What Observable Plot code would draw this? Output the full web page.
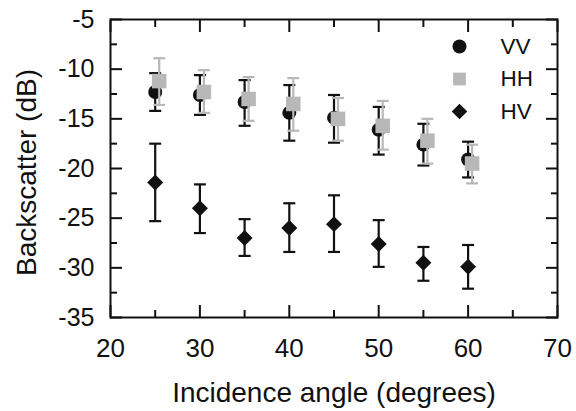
<!DOCTYPE html>
<html>
<head>
<meta charset="utf-8">
<script src="https://cdn.jsdelivr.net/npm/d3@7"></script>
<script src="https://cdn.jsdelivr.net/npm/@observablehq/plot@0.6"></script>
<style>
  html, body { margin: 0; padding: 0; background: #fff; }
  svg { display: block; }
</style>
</head>
<body>
<div id="chart"></div>
<script>
// ---- data ----
const angles = [25, 30, 35, 40, 45, 50, 55, 60];
const vv   = [-12.3, -12.6, -13.3, -14.4, -14.9, -16.1, -17.6, -19.1];
const vvHi = [-10.4, -10.6, -11.1, -11.6, -12.6, -13.8, -15.5, -17.3];
const vvLo = [-14.2, -14.6, -15.7, -17.2, -17.4, -18.6, -19.7, -20.9];
const hh   = [-11.2, -12.3, -13.0, -13.5, -15.0, -15.7, -17.2, -19.5];
const hhHi = [-8.9, -10.1, -10.8, -10.9, -12.9, -13.2, -15.0, -17.6];
const hhLo = [-13.6, -14.4, -15.2, -16.2, -17.2, -18.1, -19.5, -21.5];
const hv   = [-21.4, -24.0, -27.0, -26.0, -25.6, -27.6, -29.5, -29.9];
const hvHi = [-17.5, -21.6, -25.1, -23.5, -22.7, -25.2, -27.9, -27.7];
const hvLo = [-25.3, -26.5, -28.8, -28.4, -28.4, -29.9, -31.3, -32.1];

const xMajor = [20, 30, 40, 50, 60, 70];
const xMinor = [25, 35, 45, 55, 65];
const yMajor = [-35, -30, -25, -20, -15, -10, -5];
const yMinor = [-32.5, -27.5, -22.5, -17.5, -12.5, -7.5];
const xTitle = "Incidence angle (degrees)";
const yTitle = "Backscatter (dB)";
const legendLabels = ["VV", "HH", "HV"];

// ---- build tables ----
const mk = (v, hi, lo) => angles.map((a, i) => ({a, v: v[i], hi: hi[i], lo: lo[i]}));
const dVV = mk(vv, vvHi, vvLo);
const dHH = mk(hh, hhHi, hhLo);
const dHV = mk(hv, hvHi, hvLo);

// horizontal line symbol for error-bar caps
const capSymbol = {
  draw(ctx, size) {
    const w = Math.sqrt(size / Math.PI);
    ctx.moveTo(-w, 0); ctx.lineTo(w, 0);
  }
};

const BLACK = "#111111";
const GREY = "#b8b8b8";
const FONT = "'Liberation Sans', Arial, sans-serif";

function errorBars(data, color, dx) {
  return [
    Plot.ruleX(data, {x: "a", y1: "lo", y2: "hi", stroke: color, strokeWidth: 2.2, dx}),
    Plot.dot(data, {x: "a", y: "hi", symbol: capSymbol, r: 6, stroke: color, strokeWidth: 2.2, fill: "none", dx}),
    Plot.dot(data, {x: "a", y: "lo", symbol: capSymbol, r: 6, stroke: color, strokeWidth: 2.2, fill: "none", dx})
  ];
}

const legendSymbols = [
  {symbol: "circle", r: 7, fill: BLACK},
  {symbol: "square", r: 7.2, fill: GREY},
  {symbol: "diamond2", r: 7, fill: BLACK}
];
const legendMarks = legendLabels.flatMap((lab, i) => [
  Plot.dot([lab], {frameAnchor: "top-right", dx: -98, dy: 27 + i * 32.5,
    symbol: legendSymbols[i].symbol, r: legendSymbols[i].r, fill: legendSymbols[i].fill, stroke: "none"}),
  Plot.text([lab], {frameAnchor: "top-right", dx: -57, dy: 27 + i * 32.5, text: d => d,
    textAnchor: "start", lineAnchor: "middle", fontSize: 22.5, fill: BLACK})
]);

const chart = Plot.plot({
  width: 576,
  height: 411,
  marginLeft: 110,
  marginRight: 19,
  marginTop: 19,
  marginBottom: 94,
  style: {fontFamily: FONT, color: BLACK, background: "white", overflow: "visible"},
  x: {domain: [20, 70]},
  y: {domain: [-35, -5]},
  marks: [
    // inward ticks
    Plot.axisX({anchor: "bottom", ticks: xMajor, tickSize: -12, tickFormat: () => "", label: null, strokeWidth: 2}),
    Plot.axisX({anchor: "bottom", ticks: xMinor, tickSize: -7, tickFormat: () => "", label: null, strokeWidth: 2}),
    Plot.axisX({anchor: "top", ticks: xMajor, tickSize: -12, tickFormat: () => "", label: null, strokeWidth: 2}),
    Plot.axisX({anchor: "top", ticks: xMinor, tickSize: -7, tickFormat: () => "", label: null, strokeWidth: 2}),
    Plot.axisY({anchor: "left", ticks: yMajor, tickSize: -12, tickFormat: () => "", label: null, strokeWidth: 2}),
    Plot.axisY({anchor: "left", ticks: yMinor, tickSize: -7, tickFormat: () => "", label: null, strokeWidth: 2}),
    Plot.axisY({anchor: "right", ticks: yMajor, tickSize: -12, tickFormat: () => "", label: null, strokeWidth: 2}),
    Plot.axisY({anchor: "right", ticks: yMinor, tickSize: -7, tickFormat: () => "", label: null, strokeWidth: 2}),
    // tick labels
    Plot.axisX({anchor: "bottom", ticks: xMajor, tickSize: 0, tickPadding: 21, tickFormat: d => String(d), label: null, fontSize: 26, fill: BLACK}),
    Plot.axisY({anchor: "left", ticks: yMajor, tickSize: 0, tickPadding: 16, tickFormat: d => String(d), label: null, fontSize: 25, fill: BLACK}),
    // titles
    Plot.text([xTitle], {frameAnchor: "bottom", dy: 76, text: d => d, textAnchor: "middle", lineAnchor: "middle", fontSize: 28, fill: BLACK}),
    Plot.text([yTitle], {frameAnchor: "left", dx: -83, dy: 4, rotate: -90, text: d => d, textAnchor: "middle", lineAnchor: "middle", fontSize: 28, fill: BLACK}),
    // data
    ...errorBars(dVV, BLACK, 0),
    Plot.dot(dVV, {x: "a", y: "v", symbol: "circle", r: 7, fill: BLACK, stroke: "none"}),
    ...errorBars(dHH, GREY, 4),
    Plot.dot(dHH, {x: "a", y: "v", symbol: "square", r: 8.2, fill: GREY, stroke: "none", dx: 4}),
    ...errorBars(dHV, BLACK, 0),
    Plot.dot(dHV, {x: "a", y: "v", symbol: "diamond2", r: 7.2, fill: BLACK, stroke: "none"}),
    ...legendMarks,
    Plot.frame({stroke: BLACK, strokeWidth: 2})
  ]
});
document.getElementById("chart").appendChild(chart);
</script>
</body>
</html>
